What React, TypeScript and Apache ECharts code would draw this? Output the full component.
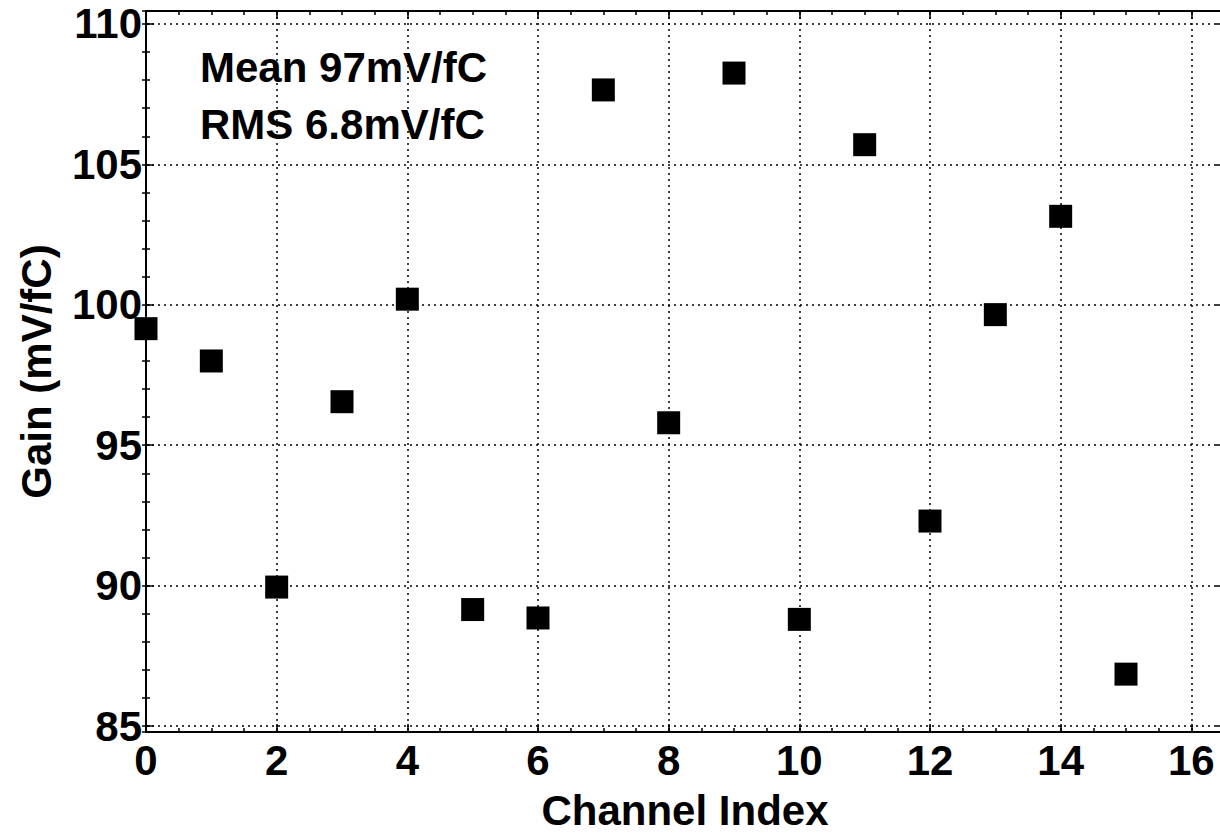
import React, { useEffect, useRef } from "react";
import * as echarts from "echarts";

const channels = [0, 1, 2, 3, 4, 5, 6, 7, 8, 9, 10, 11, 12, 13, 14, 15];
const gains = [99.15, 98.0, 89.95, 96.55, 100.2, 89.15, 88.85, 107.65, 95.8, 108.25, 88.8, 105.7, 92.3, 99.65, 103.15, 86.85];
const statLines = ["Mean 97mV/fC", "RMS 6.8mV/fC"];
const xTitle = "Channel Index";
const yTitle = "Gain (mV/fC)";

const FONT = '"Liberation Sans", Arial, Helvetica, sans-serif';
const X_MIN = 0;
const X_MAX = 16.5;
const Y_MIN = 84.79;
const Y_MAX = 110.46;

export default function App() {
  const ref = useRef<HTMLDivElement>(null);
  useEffect(() => {
    document.body.style.margin = "0";
    document.body.style.overflow = "hidden";
    if (!ref.current) return;
    const chart = echarts.init(ref.current, undefined, { renderer: "svg" });
    const labelStyle = { fontSize: 42, fontWeight: "bold" as const, fontFamily: FONT, color: "#000" };
    const gridLine = { show: true, lineStyle: { color: "#000", width: 1.5, type: [2, 4] as number[] } };
    const axisLine = { show: true, onZero: false, lineStyle: { color: "#000", width: 2 } };
    const majorTick = { show: true, inside: true, length: 8, lineStyle: { color: "#000", width: 1.5 } };
    const minorTickAxis = { show: true, inside: true, length: 4, lineStyle: { color: "#000", width: 1.5 } };

    const data = channels.map((c, i) => [c, gains[i]]);

    chart.setOption({
      animation: false,
      backgroundColor: "#fff",
      grid: { left: 146, top: 11, right: 0, bottom: 97, containLabel: false },
      xAxis: [
        {
          type: "value", min: X_MIN, max: X_MAX, interval: 2, position: "bottom",
          axisLine, axisTick: majorTick,
          axisLabel: { ...labelStyle, margin: 7, showMaxLabel: false },
          splitLine: gridLine,
          name: xTitle, nameLocation: "middle", nameGap: 57,
          nameTextStyle: { fontSize: 42, fontWeight: "bold", fontFamily: FONT, color: "#000" },
        },
        {
          type: "value", min: X_MIN, max: X_MAX, interval: 2, position: "top",
          axisLine, axisTick: majorTick, axisLabel: { show: false }, splitLine: { show: false },
        },
        {
          type: "value", min: X_MIN, max: X_MAX, interval: 0.5, position: "bottom",
          axisLine: { show: false }, axisTick: minorTickAxis, axisLabel: { show: false }, splitLine: { show: false },
        },
        {
          type: "value", min: X_MIN, max: X_MAX, interval: 0.5, position: "top",
          axisLine: { show: false }, axisTick: minorTickAxis, axisLabel: { show: false }, splitLine: { show: false },
        },
      ],
      yAxis: [
        {
          type: "value", min: Y_MIN, max: Y_MAX, splitNumber: 5, position: "left",
          axisLine, axisTick: majorTick,
          axisLabel: { ...labelStyle, margin: 4, showMinLabel: false, showMaxLabel: false },
          splitLine: gridLine,
          name: yTitle, nameLocation: "middle", nameGap: 89,
          nameTextStyle: { fontSize: 42, fontWeight: "bold", fontFamily: FONT, color: "#000" },
        },
        {
          type: "value", min: Y_MIN, max: Y_MAX, splitNumber: 5, position: "right",
          axisLine, axisTick: majorTick, axisLabel: { show: false }, splitLine: { show: false },
        },
        {
          type: "value", min: Y_MIN, max: Y_MAX, splitNumber: 25, position: "left",
          axisLine: { show: false }, axisTick: minorTickAxis, axisLabel: { show: false }, splitLine: { show: false },
        },
        {
          type: "value", min: Y_MIN, max: Y_MAX, splitNumber: 25, position: "right",
          axisLine: { show: false }, axisTick: minorTickAxis, axisLabel: { show: false }, splitLine: { show: false },
        },
      ],
      series: [
        {
          type: "scatter", xAxisIndex: 0, yAxisIndex: 0, data,
          symbol: "rect", symbolSize: 23,
          itemStyle: { color: "#000", opacity: 1 },
        },
      ],
      graphic: statLines.map((t, i) => ({
        type: "text", x: 200, y: 67 + i * 57,
        style: { text: t, font: `bold 42px ${FONT}`, fill: "#000", align: "left", verticalAlign: "middle" },
      })),
    });
    return () => chart.dispose();
  }, []);
  return (
    <div style={{ position: "fixed", left: 0, top: 0, width: 1220, height: 836, overflow: "hidden" }}>
      <div ref={ref} style={{ width: 1224, height: 836 }} />
    </div>
  );
}
